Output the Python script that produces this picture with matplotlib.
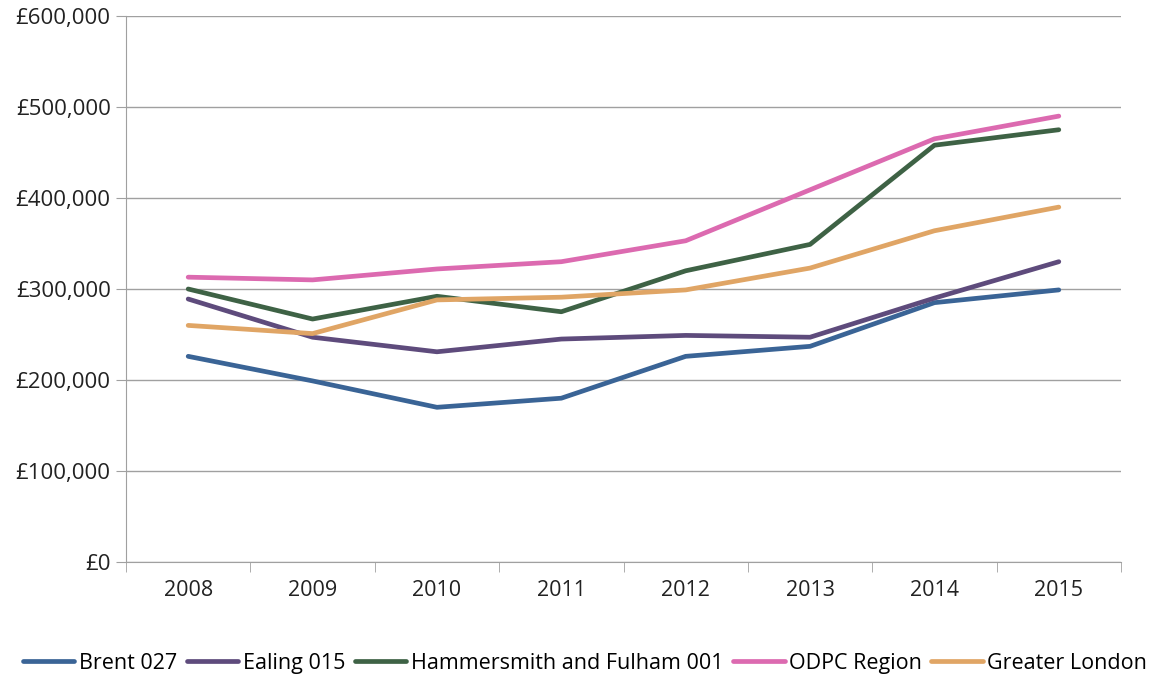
import numpy as np
import matplotlib.pyplot as plt
from matplotlib.ticker import FuncFormatter

# Data
years = ['2008', '2009', '2010', '2011', '2012', '2013', '2014', '2015']
brent = [226000, 199000, 170000, 180000, 226000, 237000, 285000, 299000]
ealing = [289000, 247000, 231000, 245000, 249000, 247000, 290000, 330000]
hammersmith = [300000, 267000, 292000, 275000, 320000, 349000, 458000, 475000]
odpc = [313000, 310000, 322000, 330000, 353000, 409000, 465000, 490000]
london = [260000, 251000, 288000, 291000, 299000, 323000, 364000, 390000]

series = [
    ('Brent 027', brent, '#3A6496'),
    ('Ealing 015', ealing, '#5E4B7C'),
    ('Hammersmith and Fulham 001', hammersmith, '#3E6245'),
    ('ODPC Region', odpc, '#DC6AB0'),
    ('Greater London', london, '#E0A565'),
]

plt.rcParams['font.family'] = ['Open Sans', 'DejaVu Sans']

fig = plt.figure(figsize=(11.53, 6.79), dpi=100)
ax = fig.add_axes([126 / 1153, 1 - 562 / 679, 995 / 1153, 546 / 679])

x = np.arange(len(years))
for name, vals, col in series:
    ax.plot(x, vals, color=col, lw=3.4, label=name, solid_capstyle='round')

ax.set_xlim(-0.5, len(years) - 0.5)
ax.set_ylim(0, 600000)
ax.set_yticks(np.arange(0, 600001, 100000))
ax.yaxis.set_major_formatter(FuncFormatter(lambda v, p: '£{:,.0f}'.format(v)))
ax.set_xticks(x)
ax.set_xticklabels(years)
ax.set_xticks(np.arange(-0.5, len(years)), minor=True)

ax.grid(axis='y', color='#A0A0A0', lw=1)
ax.set_axisbelow(True)
for s in ['top', 'right']:
    ax.spines[s].set_visible(False)
for s in ['left', 'bottom']:
    ax.spines[s].set_color('#A0A0A0')
ax.tick_params(axis='x', which='major', length=0, pad=13, labelsize=15.5, colors='#222222')
ax.tick_params(axis='x', which='minor', length=7, color='#A0A0A0')
ax.tick_params(axis='y', length=7, color='#A0A0A0', labelsize=16, labelcolor='#222222', pad=4)

ax.legend(loc='center', bbox_to_anchor=(0.5 - 126 / 1153 / 2 + 0.016, -0.185), ncol=5,
          frameon=False, fontsize=15.5, handlelength=2.4, handletextpad=0.2,
          columnspacing=0.45)

fig.savefig('out.png')
